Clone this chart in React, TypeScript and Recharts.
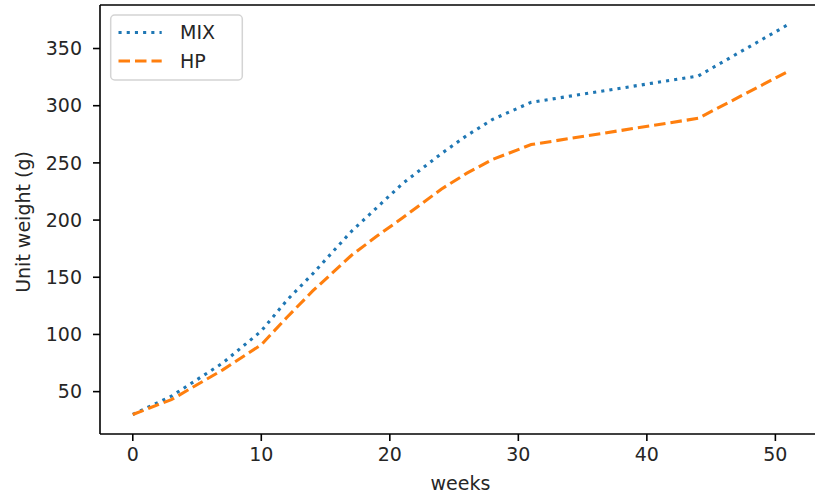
import React from 'react';
import { LineChart, Line, XAxis, YAxis, Legend, Label, ReferenceLine } from 'recharts';

const weeks = [0, 3, 7, 10, 12, 14, 17, 19, 21, 24, 26, 28, 31, 44, 51];
const mixValues = [30, 46, 75, 103, 130, 153, 190, 211, 232, 258, 274, 288, 303, 326, 371];
const hpValues = [30, 43, 69, 91, 115, 138, 169, 186, 202, 227, 241, 253, 266, 289, 330];
const xTicks = [0, 10, 20, 30, 40, 50];
const yTicks = [50, 100, 150, 200, 250, 300, 350];
const seriesNames = ['MIX', 'HP'];

const data = weeks.map((w, i) => ({ week: w, MIX: mixValues[i], HP: hpValues[i] }));

const pad = (lo: number, hi: number): [number, number] => {
  const m = (hi - lo) * 0.05;
  return [lo - m, hi + m];
};
const xDomain = pad(Math.min(...weeks), Math.max(...weeks));
const allY = [...mixValues, ...hpValues];
const yDomain = pad(Math.min(...allY), Math.max(...allY));

const FONT = '"DejaVu Sans", sans-serif';
const FS = 19;
const BLUE = '#1f77b4';
const ORANGE = '#ff7f0e';
const DOT = '3.1 5.1';
const DASH = '11.5 5';
const AX = '#000';
const TXT = '#262626';

const LegendBox = () => (
  <svg width={260} height={100} style={{ display: 'block' }}>
    <rect x={110.7} y={15} width={131.6} height={65} rx={4} ry={4} fill="#fff" fillOpacity={0.8} stroke="#d4d4d4" strokeWidth={1.5} />
    <line x1={118.5} x2={161.7} y1={32.5} y2={32.5} stroke={BLUE} strokeWidth={3.1} strokeDasharray={DOT} />
    <line x1={118.5} x2={161.7} y1={61} y2={61} stroke={ORANGE} strokeWidth={3.1} strokeDasharray={DASH} />
    <text x={180} y={39.3} fontFamily={FONT} fontSize={FS} fill={TXT}>{seriesNames[0]}</text>
    <text x={180} y={67.8} fontFamily={FONT} fontSize={FS} fill={TXT}>{seriesNames[1]}</text>
  </svg>
);

const YLabel = () => {
  const cy = 222;
  const x = 29.5;
  return (
    <text x={x} y={cy} transform={`rotate(-90, ${x}, ${cy})`} textAnchor="middle" fontFamily={FONT} fontSize={FS} fill={TXT}>
      Unit weight (g)
    </text>
  );
};

export default function App() {
  return (
    <div style={{ position: 'absolute', left: 0, top: 0, width: 815, height: 495, overflow: 'hidden', background: '#fff' }}>
      <LineChart width={821} height={495} data={data} margin={{ top: 5, right: 0, bottom: 0, left: 0 }}>
        <XAxis
          dataKey="week"
          type="number"
          domain={xDomain}
          ticks={xTicks}
          allowDataOverflow
          height={61}
          stroke={AX}
          strokeWidth={1.6}
          tickSize={7}
          tickMargin={7}
          tickLine={{ stroke: AX, strokeWidth: 1.6 }}
          tick={{ fontFamily: FONT, fontSize: FS, fill: TXT }}
        >
          <Label value="weeks" position="insideBottom" offset={5} fontFamily={FONT} fontSize={FS} fill={TXT} />
        </XAxis>
        <YAxis
          type="number"
          domain={yDomain}
          ticks={yTicks}
          allowDataOverflow
          width={100}
          stroke={AX}
          strokeWidth={1.6}
          tickSize={7}
          tickMargin={11}
          tickLine={{ stroke: AX, strokeWidth: 1.6 }}
          tick={{ fontFamily: FONT, fontSize: FS, fill: TXT }}
        >
          <Label content={YLabel} />
        </YAxis>
        <YAxis yAxisId="right" orientation="right" type="number" domain={yDomain} width={0} tick={false} tickLine={false} stroke={AX} strokeWidth={1.6} />
        <ReferenceLine y={yDomain[1]} stroke={AX} strokeWidth={1.6} ifOverflow="extendDomain" />
        <Legend
          layout="vertical"
          align="center"
          verticalAlign="middle"
          wrapperStyle={{ position: 'absolute', left: 0, top: 0, width: 260, height: 100 }}
          content={() => <LegendBox />}
        />
        <Line type="linear" dataKey="MIX" stroke={BLUE} strokeWidth={3.1} strokeDasharray={DOT} strokeLinecap="butt" dot={false} isAnimationActive={false} />
        <Line type="linear" dataKey="HP" stroke={ORANGE} strokeWidth={3.1} strokeDasharray={DASH} strokeLinecap="butt" dot={false} isAnimationActive={false} />
      </LineChart>
    </div>
  );
}
